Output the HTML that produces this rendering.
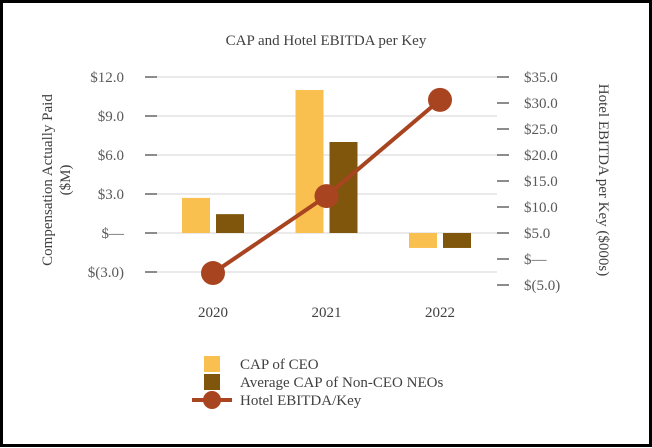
<!DOCTYPE html>
<html><head><meta charset="utf-8"><style>
html,body{margin:0;padding:0;background:#fff;}
svg{display:block;font-family:"Liberation Serif",serif;}
</style></head><body>
<svg width="652" height="448" viewBox="0 0 652 448">
<rect x="1.5" y="1.5" width="649" height="444" fill="#fff" stroke="#000" stroke-width="3"/>
<text x="326" y="45" text-anchor="middle" font-size="15" fill="#404040">CAP and Hotel EBITDA per Key</text>
<g id="grid"></g><g id="bars"></g><g id="line"></g><g id="axes"></g>
<text transform="translate(52,180) rotate(-90)" text-anchor="middle" font-size="15" fill="#404040"><tspan x="0" dy="0">Compensation Actually Paid</tspan><tspan x="0" dy="18">($M)</tspan></text>
<text transform="translate(599,180) rotate(90)" text-anchor="middle" font-size="15" fill="#404040">Hotel EBITDA per Key ($000s)</text>
<g>
<rect x="204" y="356" width="16" height="16" fill="#F9BF4F"/>
<text x="240" y="369" font-size="15" fill="#404040">CAP of CEO</text>
<rect x="204" y="374" width="16" height="16" fill="#7F560B"/>
<text x="240" y="387" font-size="15" fill="#404040">Average CAP of Non-CEO NEOs</text>
<line x1="192" y1="400" x2="232" y2="400" stroke="#A94421" stroke-width="4"/>
<circle cx="212" cy="400" r="9" fill="#A94421"/>
<text x="240" y="405" font-size="15" fill="#404040">Hotel EBITDA/Key</text>
</g>
</svg>
<script>
const categories=["2020","2021","2022"];
const ceoCap=[2.7,11.0,-1.15];
const neoCap=[1.45,7.0,-1.15];
const ebitda=[-2.7,12.1,30.6];
const leftTicks=[12,9,6,3,0,-3];
const leftTickLabels=["$12.0","$9.0","$6.0","$3.0","$—","$(3.0)"];
const rightTicks=[35,30,25,20,15,10,5,0,-5];
const rightTickLabels=["$35.0","$30.0","$25.0","$20.0","$15.0","$10.0","$5.0","$—","$(5.0)"];
const NS="http://www.w3.org/2000/svg";
const yL=v=>233-v*13;
const yR=v=>259-v*5.2;
const xC=i=>213+i*113.5;
function mk(tag,attrs,parent,text){const e=document.createElementNS(NS,tag);for(const k in attrs)e.setAttribute(k,attrs[k]);if(text!==undefined)e.textContent=text;document.getElementById(parent).appendChild(e);return e;}
leftTicks.forEach((t,i)=>{
 let g=mk("line",{x1:157,x2:497,y1:yL(t),y2:yL(t),stroke:"#e3e3e3","stroke-width":1.5},"grid");
 
 
 let tk=mk("line",{x1:145,x2:157,y1:yL(t),y2:yL(t),stroke:"#8c8c8c","stroke-width":2},"axes");
 
 
 let l=mk("text",{x:124,y:yL(t)+5,"text-anchor":"end","font-size":15,fill:"#595959"},"axes",leftTickLabels[i]);
 
 
});
rightTicks.forEach((t,i)=>{
 let tk=mk("line",{x1:497,x2:509,y1:yR(t),y2:yR(t),stroke:"#8c8c8c","stroke-width":2},"axes");
 
 
 let l=mk("text",{x:524,y:yR(t)+5,"font-size":15,fill:"#595959"},"axes",rightTickLabels[i]);
 
 
});
categories.forEach((c,i)=>{
 let l=mk("text",{x:xC(i),y:317,"text-anchor":"middle","font-size":15,fill:"#404040"},"axes",c);
 
 
 const bw=28;
 [[ceoCap[i],"#F9BF4F",-31],[neoCap[i],"#7F560B",3]].forEach(([v,col,off],j)=>{
  const y0=Math.min(yL(v),yL(0)),h=Math.abs(yL(v)-yL(0));
  let b=mk("rect",{x:xC(i)+off,y:y0,width:bw,height:h,fill:col},"bars");
  
  
 });
});
let pts=ebitda.map((v,i)=>xC(i)+","+yR(v)).join(" ");
let pl=mk("polyline",{points:pts,fill:"none",stroke:"#A94421","stroke-width":4},"line");


ebitda.forEach((v,i)=>{
 let p=mk("circle",{cx:xC(i),cy:yR(v),r:12,fill:"#A94421"},"line");
 
 
});
</script>
</body></html>
